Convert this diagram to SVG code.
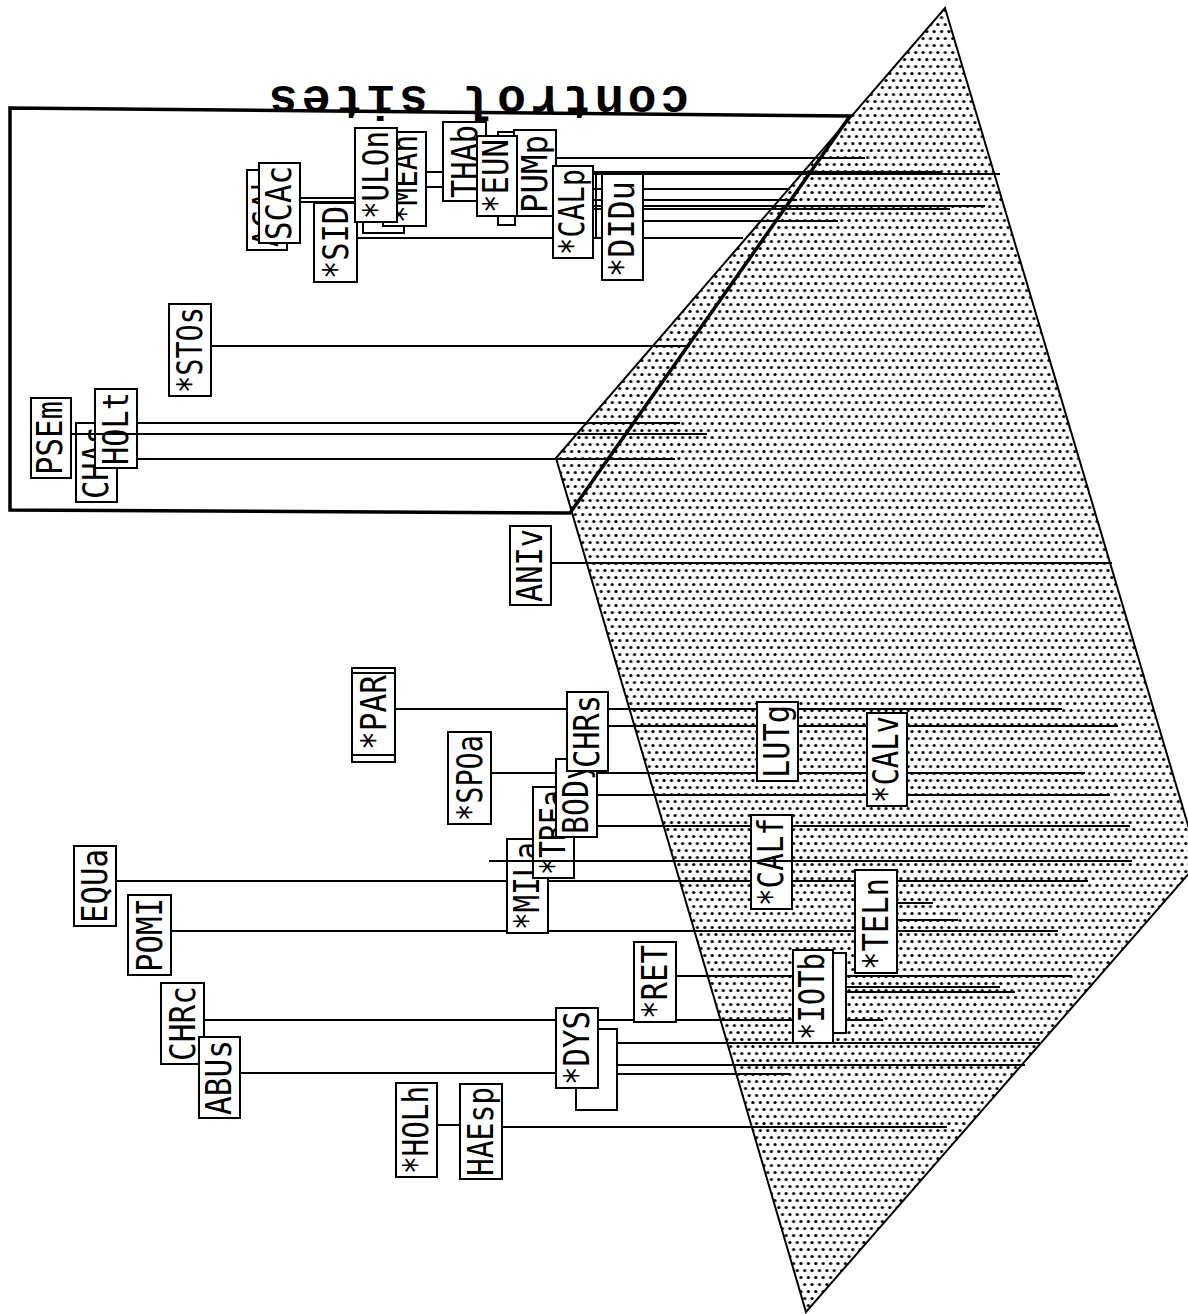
<svg xmlns="http://www.w3.org/2000/svg" width="1188" height="1314" viewBox="0 0 1188 1314">
<defs>
<pattern id="dots" width="7.4" height="14" patternUnits="userSpaceOnUse">
<circle cx="1.8" cy="3.5" r="1.6" fill="#000"/>
<circle cx="5.5" cy="10.5" r="1.6" fill="#000"/>
</pattern>
<style>
.box{fill:#fff;stroke:#000;stroke-width:2}
.ln{stroke:#000;stroke-width:2;fill:none}
.lbl{font-family:"DejaVu Sans Mono","Liberation Mono",monospace;font-size:35px;fill:#000}
.ttl{font-family:"Liberation Mono","DejaVu Sans Mono",monospace;font-size:48px;font-weight:bold;fill:#000}
</style>
</defs>
<rect width="1188" height="1314" fill="#fff"/>
<g id="region">
<polygon points="945,8 1199,862 806,1312 556,458" fill="url(#dots)" stroke="#000" stroke-width="2"/>
</g>
<g id="bracket">
<path d="M10,108 L850,116 L570,513 L10,510 Z" fill="none" stroke="#000" stroke-width="3.5"/>
<text class="ttl" transform="translate(479,86) rotate(180)" text-anchor="middle" textLength="420" lengthAdjust="spacing">control sites</text>
</g>
<g id="connectors">
<line class="ln" x1="300" y1="198" x2="355" y2="198"/>
<line class="ln" x1="300" y1="202" x2="355" y2="202"/>
<line class="ln" x1="357" y1="238" x2="743" y2="238"/>
<line class="ln" x1="426" y1="172" x2="443" y2="172"/>
<line class="ln" x1="426" y1="187" x2="443" y2="187"/>
<line class="ln" x1="517" y1="180" x2="553" y2="180"/>
<line class="ln" x1="517" y1="208" x2="553" y2="208"/>
<line class="ln" x1="556" y1="158" x2="865" y2="158"/>
<line class="ln" x1="583" y1="172" x2="942" y2="172"/>
<line class="ln" x1="593" y1="174" x2="1000" y2="174"/>
<line class="ln" x1="593" y1="189" x2="790" y2="189"/>
<line class="ln" x1="593" y1="200" x2="797" y2="200"/>
<line class="ln" x1="593" y1="206" x2="985" y2="206"/>
<line class="ln" x1="593" y1="209" x2="950" y2="209"/>
<line class="ln" x1="643" y1="221" x2="838" y2="221"/>
<line class="ln" x1="596" y1="172" x2="596" y2="238"/>
<line class="ln" x1="137" y1="423" x2="680" y2="423"/>
<line class="ln" x1="137" y1="459" x2="675" y2="459"/>
<line class="ln" x1="211" y1="346" x2="690" y2="346"/>
<line class="ln" x1="551" y1="563" x2="1112" y2="563"/>
<line class="ln" x1="395" y1="709" x2="1062" y2="709"/>
<line class="ln" x1="608" y1="726" x2="1118" y2="726"/>
<line class="ln" x1="491" y1="773" x2="1085" y2="773"/>
<line class="ln" x1="597" y1="795" x2="1110" y2="795"/>
<line class="ln" x1="597" y1="826" x2="1130" y2="826"/>
<line class="ln" x1="116" y1="881" x2="1088" y2="881"/>
<line class="ln" x1="171" y1="931" x2="1058" y2="931"/>
<line class="ln" x1="676" y1="976" x2="1072" y2="976"/>
<line class="ln" x1="204" y1="1020" x2="883" y2="1020"/>
<line class="ln" x1="240" y1="1073" x2="576" y2="1073"/>
<line class="ln" x1="617" y1="1043" x2="1040" y2="1043"/>
<line class="ln" x1="617" y1="1065" x2="1025" y2="1065"/>
<line class="ln" x1="617" y1="1074" x2="790" y2="1074"/>
<line class="ln" x1="437" y1="1125" x2="460" y2="1125"/>
<line class="ln" x1="502" y1="1127" x2="947" y2="1127"/>
<line class="ln" x1="846" y1="987" x2="1000" y2="987"/>
<line class="ln" x1="833" y1="992" x2="1015" y2="992"/>
<line class="ln" x1="897" y1="903" x2="933" y2="903"/>
<line class="ln" x1="897" y1="920" x2="958" y2="920"/>
</g>
<g id="nodes">
<g id="n-PSEm"><rect class="box" x="31" y="398" width="40" height="80"/><text class="lbl" transform="translate(62,475) rotate(-90)" textLength="74" lengthAdjust="spacingAndGlyphs">PSEm</text></g>
<g id="n-CHAs"><rect class="box" x="76" y="423" width="41" height="79"/><text class="lbl" transform="translate(108,499) rotate(-90)" textLength="73" lengthAdjust="spacingAndGlyphs">CHAs</text></g>
<g id="n-HOLt"><rect class="box" x="95" y="389" width="42" height="79"/><text class="lbl" transform="translate(128,465) rotate(-90)" textLength="73" lengthAdjust="spacingAndGlyphs">HOLt</text></g>
<g id="n-STOs"><rect class="box" x="169" y="304" width="42" height="92"/><text class="lbl" transform="translate(202,393) rotate(-90)" textLength="86" lengthAdjust="spacingAndGlyphs">*STOs</text></g>
<g id="n-ACAb"><rect class="box" x="247" y="170" width="40" height="80"/><text class="lbl" transform="translate(278,247) rotate(-90)" textLength="74" lengthAdjust="spacingAndGlyphs">ACAb</text></g>
<g id="n-SCAc"><rect class="box" x="259" y="163" width="41" height="80"/><text class="lbl" transform="translate(291,240) rotate(-90)" textLength="74" lengthAdjust="spacingAndGlyphs">SCAc</text></g>
<g id="n-SID"><rect class="box" x="314" y="203" width="43" height="79"/><text class="lbl" transform="translate(348,279) rotate(-90)" textLength="73" lengthAdjust="spacingAndGlyphs">*SID</text></g>
<g id="n-box1"><rect class="box" x="363" y="135" width="41" height="98"/></g>
<g id="n-MEAn"><rect class="box" x="383" y="132" width="43" height="94"/><text class="lbl" transform="translate(417,223) rotate(-90)" textLength="88" lengthAdjust="spacingAndGlyphs">*MEAn</text></g>
<g id="n-ULOn"><rect class="box" x="355" y="128" width="42" height="94"/><text class="lbl" transform="translate(388,219) rotate(-90)" textLength="88" lengthAdjust="spacingAndGlyphs">*ULOn</text></g>
<g id="n-THAb"><rect class="box" x="443" y="122" width="43" height="79"/><text class="lbl" transform="translate(477,198) rotate(-90)" textLength="73" lengthAdjust="spacingAndGlyphs">THAb</text></g>
<g id="n-box2"><rect class="box" x="498" y="132" width="17" height="93"/></g>
<g id="n-PUMp"><rect class="box" x="514" y="130" width="42" height="86"/><text class="lbl" transform="translate(547,213) rotate(-90)" textLength="78" lengthAdjust="spacingAndGlyphs">PUMp</text></g>
<g id="n-EUN"><rect class="box" x="477" y="136" width="40" height="80"/><text class="lbl" transform="translate(508,213) rotate(-90)" textLength="74" lengthAdjust="spacingAndGlyphs">*EUN</text></g>
<g id="n-CALp"><rect class="box" x="553" y="166" width="40" height="92"/><text class="lbl" transform="translate(584,255) rotate(-90)" textLength="86" lengthAdjust="spacingAndGlyphs">*CALp</text></g>
<g id="n-DIDu"><rect class="box" x="602" y="174" width="41" height="106"/><text class="lbl" transform="translate(634,277) rotate(-90)" textLength="96" lengthAdjust="spacingAndGlyphs">*DIDu</text></g>
<g id="n-ANIv"><rect class="box" x="510" y="526" width="41" height="79"/><text class="lbl" transform="translate(542,602) rotate(-90)" textLength="73" lengthAdjust="spacingAndGlyphs">ANIv</text></g>
<g id="n-PAR"><rect class="box" x="352" y="668" width="43" height="94"/><line class="ln" x1="352" y1="673" x2="395" y2="673"/><line class="ln" x1="352" y1="755" x2="395" y2="755"/><text class="lbl" transform="translate(386,750) rotate(-90)" textLength="75" lengthAdjust="spacingAndGlyphs">*PAR</text></g>
<g id="n-SPOa"><rect class="box" x="448" y="732" width="43" height="92"/><text class="lbl" transform="translate(482,821) rotate(-90)" textLength="86" lengthAdjust="spacingAndGlyphs">*SPOa</text></g>
<g id="n-MILa"><rect class="box" x="507" y="839" width="41" height="94"/><text class="lbl" transform="translate(539,930) rotate(-90)" textLength="88" lengthAdjust="spacingAndGlyphs">*MILa</text></g>
<g id="n-TREa"><rect class="box" x="533" y="787" width="41" height="91"/><text class="lbl" transform="translate(565,875) rotate(-90)" textLength="85" lengthAdjust="spacingAndGlyphs">*TREa</text></g>
<g id="n-BODy"><rect class="box" x="556" y="759" width="41" height="78"/><text class="lbl" transform="translate(588,834) rotate(-90)" textLength="72" lengthAdjust="spacingAndGlyphs">BODy</text></g>
<g id="n-CHRs"><rect class="box" x="567" y="692" width="41" height="79"/><text class="lbl" transform="translate(599,768) rotate(-90)" textLength="73" lengthAdjust="spacingAndGlyphs">CHRs</text></g>
<g id="n-EQUa"><rect class="box" x="74" y="846" width="42" height="80"/><text class="lbl" transform="translate(107,923) rotate(-90)" textLength="74" lengthAdjust="spacingAndGlyphs">EQUa</text></g>
<g id="n-POMI"><rect class="box" x="128" y="895" width="43" height="80"/><text class="lbl" transform="translate(162,972) rotate(-90)" textLength="74" lengthAdjust="spacingAndGlyphs">POMI</text></g>
<g id="n-CHRc"><rect class="box" x="161" y="983" width="43" height="81"/><text class="lbl" transform="translate(195,1061) rotate(-90)" textLength="75" lengthAdjust="spacingAndGlyphs">CHRc</text></g>
<g id="n-ABUs"><rect class="box" x="199" y="1037" width="41" height="81"/><text class="lbl" transform="translate(231,1115) rotate(-90)" textLength="75" lengthAdjust="spacingAndGlyphs">ABUs</text></g>
<g id="n-RET"><rect class="box" x="634" y="942" width="42" height="80"/><text class="lbl" transform="translate(667,1019) rotate(-90)" textLength="74" lengthAdjust="spacingAndGlyphs">*RET</text></g>
<g id="n-box3"><rect class="box" x="576" y="1029" width="41" height="81"/></g>
<g id="n-DYS"><rect class="box" x="556" y="1008" width="42" height="80"/><text class="lbl" transform="translate(589,1085) rotate(-90)" textLength="74" lengthAdjust="spacingAndGlyphs">*DYS</text></g>
<g id="n-HOLh"><rect class="box" x="396" y="1083" width="41" height="94"/><text class="lbl" transform="translate(428,1174) rotate(-90)" textLength="88" lengthAdjust="spacingAndGlyphs">*HOLh</text></g>
<g id="n-HAEsp"><rect class="box" x="460" y="1084" width="42" height="95"/><text class="lbl" transform="translate(493,1176) rotate(-90)" textLength="89" lengthAdjust="spacingAndGlyphs">HAEsp</text></g>
<g id="n-LUTg"><rect class="box" x="757" y="702" width="41" height="79"/><text class="lbl" transform="translate(789,778) rotate(-90)" textLength="73" lengthAdjust="spacingAndGlyphs">LUTg</text></g>
<g id="n-CALv"><rect class="box" x="867" y="713" width="40" height="93"/><text class="lbl" transform="translate(898,803) rotate(-90)" textLength="87" lengthAdjust="spacingAndGlyphs">*CALv</text></g>
<g id="n-CALf"><rect class="box" x="751" y="815" width="41" height="94"/><text class="lbl" transform="translate(783,906) rotate(-90)" textLength="88" lengthAdjust="spacingAndGlyphs">*CALf</text></g>
<g id="n-TELn"><rect class="box" x="855" y="870" width="42" height="103"/><text class="lbl" transform="translate(888,970) rotate(-90)" textLength="92" lengthAdjust="spacingAndGlyphs">*TELn</text></g>
<g id="n-box4"><rect class="box" x="833" y="953" width="13" height="80"/></g>
<g id="n-IOTb"><rect class="box" x="793" y="950" width="40" height="93"/><text class="lbl" transform="translate(824,1040) rotate(-90)" textLength="87" lengthAdjust="spacingAndGlyphs">*IOTb</text></g>
</g>
<g id="overlay-connectors">
<line class="ln" x1="71" y1="434" x2="707" y2="434"/>
<line class="ln" x1="489" y1="861" x2="1132" y2="861"/>
</g>
</svg>
